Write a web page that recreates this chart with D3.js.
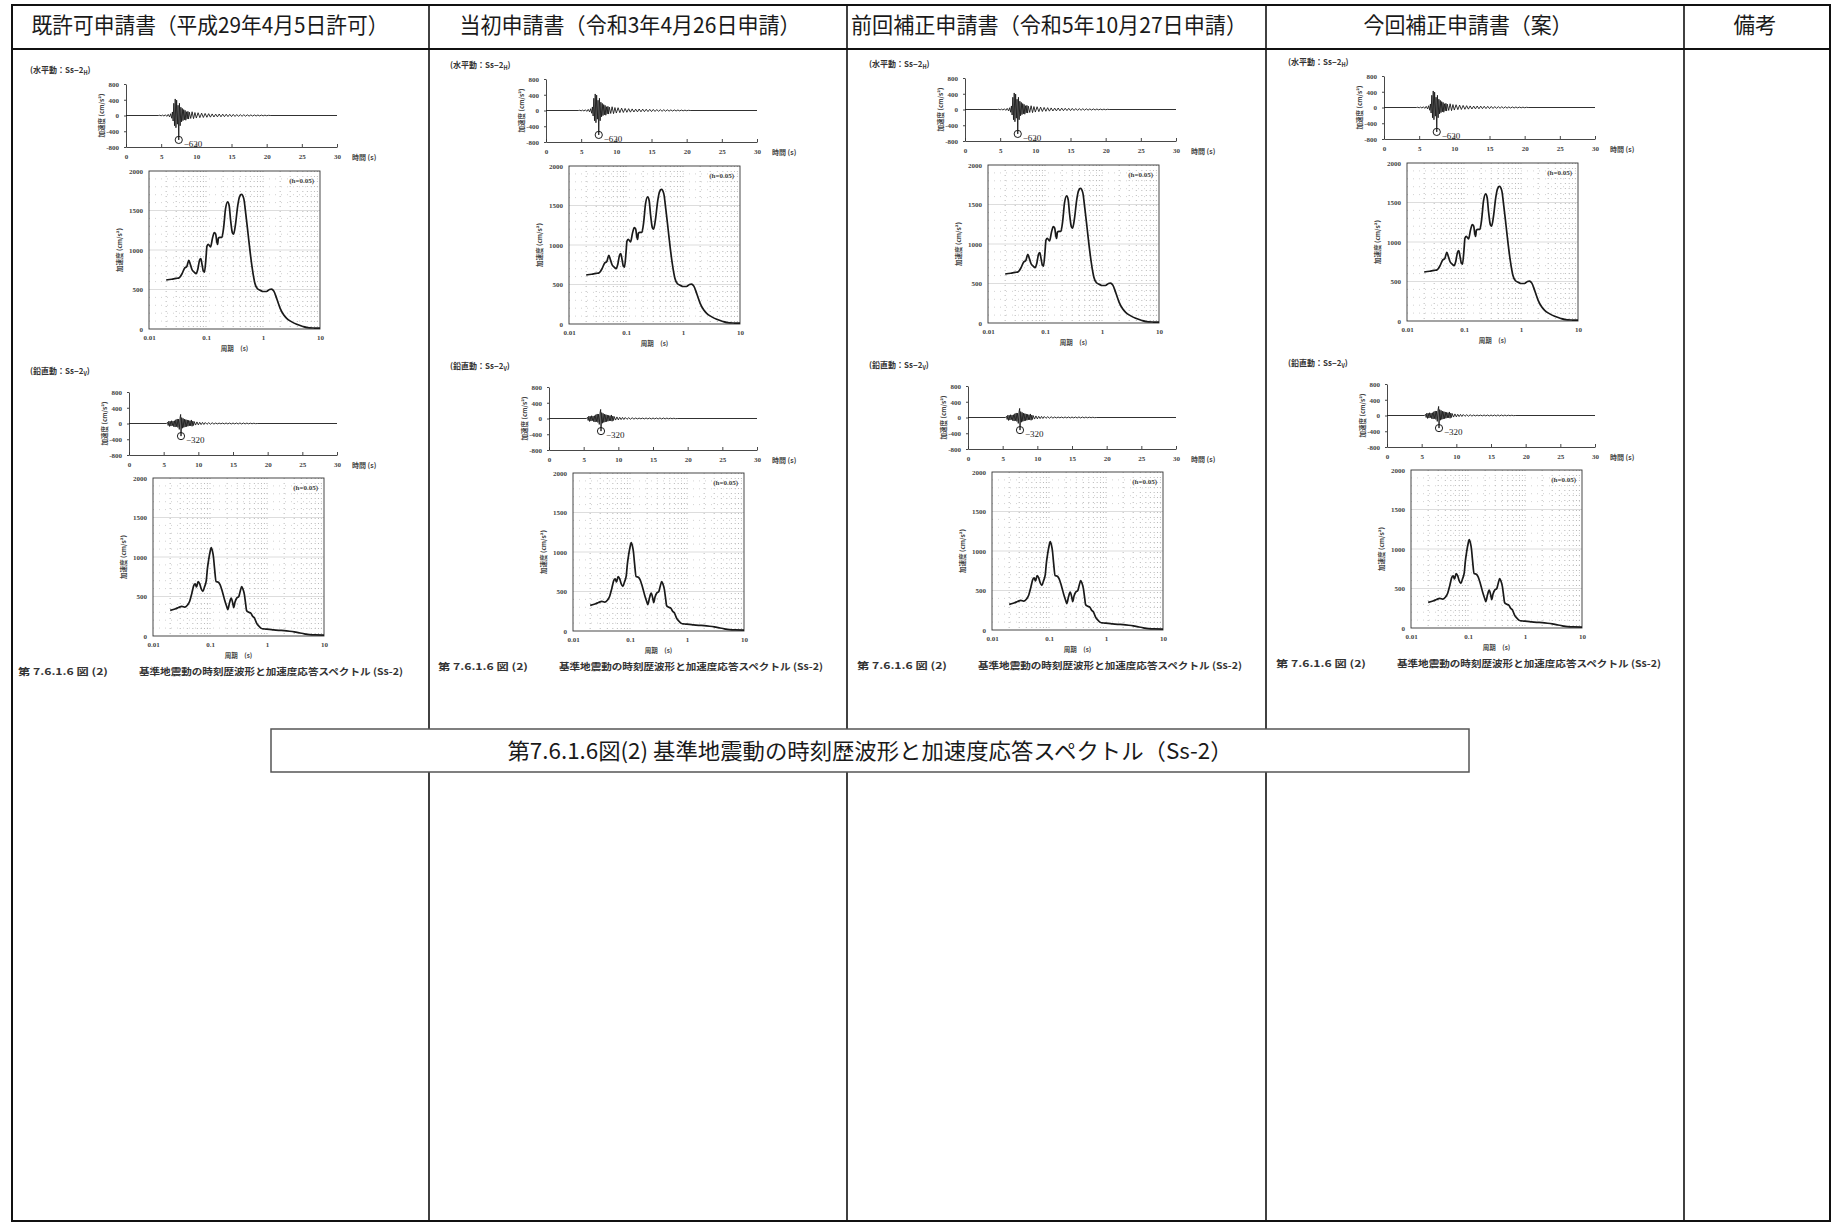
<!DOCTYPE html>
<html><head><meta charset="utf-8">
<script src="https://cdn.jsdelivr.net/npm/d3@7"></script>
<style>body{margin:0;background:#fff}svg{display:block}</style>
</head><body>
<svg id="c" width="1834" height="1224"></svg>
<script>
// ---------- data ----------
const columnHeaders = ["既許可申請書（平成29年4月5日許可）","当初申請書（令和3年4月26日申請）","前回補正申請書（令和5年10月27日申請）","今回補正申請書（案）","備考"];
const captionNumber = "第 7.6.1.6 図 (2)";
const captionText = "基準地震動の時刻歴波形と加速度応答スペクトル (Ss-2)";
const bigCaption = "第7.6.1.6図(2) 基準地震動の時刻歴波形と加速度応答スペクトル（Ss-2）";
const hTitle = ["(水平動：Ss−2", "H", ")"];
const vTitle = ["(鉛直動：Ss−2", "V", ")"];
const timeTicks = [0,5,10,15,20,25,30];
const accelTicks = [-800,-400,0,400,800];
const specYTicks = [0,500,1000,1500,2000];
const specXTicks = [0.01,0.1,1,10];
const specXLabels = ["0.01","0.1","1","10"];
const dampingLabel = "(h=0.05)";
const accelLabel = "加速度 (cm/s²)";
const timeLabel = "時間 (s)";
const periodLabel = "周期　(s)";

// horizontal time history [t (s), acc (cm/s2)]
const hWave = [[0,0],[4.6,0],[4.8,6],[5.0,-8],[5.2,10],[5.4,-14],[5.6,18],[5.8,-22],[6.0,28],[6.2,-35],[6.35,45],[6.5,-70],[6.6,90],[6.7,-140],[6.8,310],[6.9,-260],[7.0,420],[7.1,-310],[7.2,390],[7.3,-220],[7.4,260],[7.5,-620],[7.6,310],[7.7,-260],[7.8,210],[7.9,-160],[8.0,180],[8.1,-130],[8.2,150],[8.3,-110],[8.4,130],[8.5,-120],[8.6,95],[8.7,-85],[8.8,105],[8.9,-90],[9.0,85],[9.2,-75],[9.4,95],[9.6,-80],[9.8,75],[10.0,-65],[10.25,70],[10.5,-55],[10.75,60],[11.0,-50],[11.25,52],[11.5,-45],[11.75,46],[12.0,-42],[12.25,40],[12.5,-38],[12.75,36],[13.0,-35],[13.25,38],[13.5,-33],[13.75,35],[14.0,-30],[14.25,32],[14.5,-28],[14.75,30],[15.0,-28],[15.25,28],[15.5,-25],[15.75,25],[16.0,-22],[16.25,22],[16.5,-20],[16.75,20],[17.0,-18],[17.25,18],[17.5,-16],[17.75,15],[18.0,-14],[18.25,14],[18.5,-12],[18.75,12],[19.0,-10],[19.25,10],[19.5,-8],[19.75,8],[20.0,-6],[20.25,5],[20.5,0],[30,0]];
// vertical time history
const vWave = [[0,0],[5.4,0],[5.55,30],[5.65,-50],[5.75,60],[5.85,-75],[5.95,55],[6.05,-65],[6.15,70],[6.25,-55],[6.35,60],[6.45,-80],[6.55,70],[6.65,-90],[6.75,95],[6.85,-80],[6.95,115],[7.05,-100],[7.15,110],[7.25,-150],[7.35,130],[7.45,230],[7.5,-320],[7.6,150],[7.7,-120],[7.8,130],[7.9,-100],[8.0,110],[8.1,-90],[8.2,100],[8.3,-80],[8.4,90],[8.5,-70],[8.6,80],[8.7,-60],[8.8,70],[8.9,-60],[9.0,90],[9.1,-70],[9.2,60],[9.3,-50],[9.4,50],[9.6,-40],[9.8,40],[10.0,-35],[10.2,30],[10.4,-28],[10.6,28],[10.8,-25],[11.0,25],[11.25,-20],[11.5,20],[11.75,-18],[12.0,18],[12.25,-15],[12.5,12],[12.75,-10],[13.0,10],[13.25,-8],[13.5,10],[13.75,-10],[14.0,12],[14.25,-10],[14.5,12],[14.75,-12],[15.0,12],[15.25,-10],[15.5,12],[15.75,-12],[16.0,14],[16.25,-12],[16.5,12],[16.75,-10],[17.0,10],[17.25,-8],[17.5,8],[17.75,-6],[18.0,6],[18.25,-4],[18.5,0],[30,0]];
const hPeak = [7.5, -620, "−620"];
const vPeak = [7.5, -320, "−320"];

// response spectra [period (s), acc (cm/s2)]
const hSpec = [[0.02,620],[0.025,630],[0.03,640],[0.034,650],[0.038,700],[0.042,770],[0.046,790],[0.05,870],[0.053,820],[0.057,750],[0.062,720],[0.067,700],[0.072,760],[0.077,870],[0.081,890],[0.086,800],[0.09,730],[0.094,720],[0.1,900],[0.104,1050],[0.11,1070],[0.12,1040],[0.13,1150],[0.14,1220],[0.148,1200],[0.155,1100],[0.16,1070],[0.165,1150],[0.175,1160],[0.19,1160],[0.205,1300],[0.22,1520],[0.24,1610],[0.255,1560],[0.27,1380],[0.29,1220],[0.305,1200],[0.33,1330],[0.36,1560],[0.39,1680],[0.42,1705],[0.46,1650],[0.5,1450],[0.55,1190],[0.6,950],[0.65,760],[0.72,580],[0.8,510],[0.9,490],[1.0,475],[1.15,475],[1.3,500],[1.4,506],[1.55,480],[1.75,380],[2.0,262],[2.3,180],[2.6,135],[3.2,90],[3.9,59],[5.0,32],[6.0,18],[8.0,12],[10,10]];
const vSpec = [[0.02,325],[0.025,345],[0.028,360],[0.032,375],[0.036,365],[0.04,390],[0.044,440],[0.048,540],[0.052,640],[0.055,660],[0.058,620],[0.062,690],[0.066,660],[0.07,600],[0.075,565],[0.08,620],[0.086,700],[0.09,850],[0.095,970],[0.1,1060],[0.105,1120],[0.11,1080],[0.115,1000],[0.12,860],[0.128,690],[0.14,680],[0.15,650],[0.165,560],[0.18,460],[0.195,380],[0.205,335],[0.22,420],[0.235,480],[0.25,420],[0.26,360],[0.275,430],[0.295,480],[0.32,500],[0.34,570],[0.36,625],[0.38,590],[0.4,530],[0.42,420],[0.44,320],[0.48,300],[0.52,290],[0.56,250],[0.6,230],[0.66,160],[0.72,125],[0.78,100],[0.85,90],[0.95,88],[1.1,85],[1.3,78],[1.6,72],[2.0,68],[2.5,60],[3.0,52],[3.8,38],[4.5,28],[5.6,18],[7.0,14],[10,12]];

// ---------- layout ----------
const L = {
  colEdges:[12,429,847,1266,1684,1830], top:5, headBottom:49, bottom:1221,
  headCenters:[210,630,1049,1468,1755], headWidths:[357,341,396,209,43], headY:25,
  colOffsets:[[0,0],[420,-5],[839,-6],[1258,-8]],
  hTitle:[30,73], hTime:[126,337,84,147], hSpec:[149,320,171,329],
  vTitle:[30,374], vTime:[129,337,392,455], vSpec:[153,324,478,636],
  capY:675, capNumX:18, capTextX:139, capNumW:90, capTextW:264,
  bigBox:[271,729,1469,772], bigW:725
};
const ink = "#1a1a1a", soft = "#444";
const svg = d3.select("#c");
const numFont = "'Liberation Serif', 'DejaVu Serif', serif";
const jpFont = "'Noto Sans CJK JP', sans-serif";

// ---------- table ----------
const tbl = svg.append("g").attr("stroke", "#111").attr("stroke-width", 2).attr("fill","none");
tbl.append("rect").attr("x", L.colEdges[0]).attr("y", L.top)
  .attr("width", L.colEdges[5]-L.colEdges[0]).attr("height", L.bottom-L.top);
tbl.append("line").attr("x1", L.colEdges[0]).attr("x2", L.colEdges[5]).attr("y1", L.headBottom).attr("y2", L.headBottom);
tbl.selectAll("line.col").data(L.colEdges.slice(1,5)).join("line").attr("class","col")
  .attr("x1", d=>d).attr("x2", d=>d).attr("y1", L.top).attr("y2", L.bottom).attr("stroke-width",1.6);

svg.selectAll("text.head").data(columnHeaders).join("text").attr("class","head")
  .attr("x",(d,i)=>L.headCenters[i]-L.headWidths[i]/2).attr("y",L.headY+8)
  .attr("textLength",(d,i)=>L.headWidths[i]).attr("lengthAdjust","spacingAndGlyphs")
  .attr("font-family",jpFont).attr("font-size",22).attr("fill",ink).text(d=>d);

// ---------- panels ----------
function drawTitle(g, pos, parts){
  const t = g.append("text").attr("x",pos[0]).attr("y",pos[1]).attr("font-family",jpFont)
    .attr("font-size",8).attr("font-weight",700).attr("fill","#333");
  t.append("tspan").text(parts[0]);
  t.append("tspan").attr("font-size",5.5).attr("dy",2).text(parts[1]);
  t.append("tspan").attr("dy",-2).text(parts[2]);
}
function drawTime(g, box, wave, peak){
  const [x0,x1,y0,y1] = box;
  const x = d3.scaleLinear().domain([0,30]).range([x0,x1]);
  const y = d3.scaleLinear().domain([-800,800]).range([y1,y0]);
  const ax = g.append("g").attr("transform",`translate(0,${y1})`)
    .call(d3.axisBottom(x).tickValues(timeTicks).tickFormat(d3.format("d")).tickSizeInner(-3).tickSizeOuter(0).tickPadding(7));
  const ay = g.append("g").attr("transform",`translate(${x0},0)`)
    .call(d3.axisLeft(y).tickValues(accelTicks).tickFormat(d=>String(d)).tickSizeInner(2).tickSizeOuter(0).tickPadding(5));
  [ax,ay].forEach(a=>{
    a.selectAll("path,line").attr("stroke","#333").attr("stroke-width",0.9);
    a.selectAll("text").attr("font-family",numFont).attr("font-size",7).attr("font-weight",700).attr("fill",soft);
  });
  g.append("path").datum(wave).attr("fill","none").attr("stroke",ink).attr("stroke-width",0.9)
    .attr("d", d3.line().x(d=>x(d[0])).y(d=>y(d[1])));
  g.append("text").attr("x",x1+15).attr("y",y1+13).attr("font-family",jpFont).attr("font-size",7)
    .attr("font-weight",700).attr("fill",soft).text(timeLabel);
  g.append("text").attr("transform",`translate(${x0-22},${(y0+y1)/2}) rotate(-90)`).attr("text-anchor","middle")
    .attr("font-family",jpFont).attr("font-size",6.5).attr("font-weight",700).attr("fill",soft).text(accelLabel);
  g.append("circle").attr("cx",x(peak[0])).attr("cy",y(peak[1])).attr("r",3.6)
    .attr("fill","none").attr("stroke",ink).attr("stroke-width",1);
  g.append("text").attr("x",x(peak[0])+5).attr("y",y(peak[1])+7).attr("font-family",numFont)
    .attr("font-size",9).attr("fill","#222").text(peak[2]);
}
function drawSpec(g, box, spec){
  const [x0,x1,y0,y1] = box;
  const x = d3.scaleLog().domain([0.01,10]).range([x0,x1]);
  const y = d3.scaleLinear().domain([0,2000]).range([y1,y0]);
  const grid = g.append("g");
  const minor = [];
  [0.01,0.1,1].forEach(dec=>{ for(let k=1;k<10;k++){ if(dec*k>0.01) minor.push(dec*k); } });
  grid.selectAll("line.v").data(minor).join("line").attr("x1",d=>x(d)).attr("x2",d=>x(d))
    .attr("y1",y0).attr("y2",y1).attr("stroke","#999").attr("stroke-width",0.7).attr("stroke-dasharray","1 4");
  grid.selectAll("line.h").data(d3.range(100,2000,100)).join("line").attr("x1",x0).attr("x2",x1)
    .attr("y1",d=>y(d)).attr("y2",d=>y(d))
    .attr("stroke",d=>d%500===0?"#cfcfcf":"#b5b5b5").attr("stroke-width",d=>d%500===0?0.7:0.6)
    .attr("stroke-dasharray",d=>d%500===0?null:"1 5");
  g.append("rect").attr("x",x0).attr("y",y0).attr("width",x1-x0).attr("height",y1-y0)
    .attr("fill","none").attr("stroke","#333").attr("stroke-width",0.9);
  const ax = g.append("g").attr("transform",`translate(0,${y1})`)
    .call(d3.axisBottom(x).tickValues(specXTicks).tickFormat((d,i)=>specXLabels[i]).tickSize(0).tickPadding(6));
  const ay = g.append("g").attr("transform",`translate(${x0},0)`)
    .call(d3.axisLeft(y).tickValues(specYTicks).tickFormat(d3.format("d")).tickSize(0).tickPadding(6));
  [ax,ay].forEach(a=>{
    a.select(".domain").remove();
    a.selectAll("text").attr("font-family",numFont).attr("font-size",7).attr("font-weight",700).attr("fill",soft);
  });
  g.append("path").datum(spec).attr("fill","none").attr("stroke",ink).attr("stroke-width",1.7)
    .attr("stroke-linejoin","round").attr("d", d3.line().curve(d3.curveMonotoneX).x(d=>x(d[0])).y(d=>y(d[1])));
  g.append("text").attr("x",x1-6).attr("y",y0+12).attr("text-anchor","end").attr("font-family",numFont)
    .attr("font-size",7).attr("font-weight",700).attr("fill",soft).text(dampingLabel);
  g.append("text").attr("x",(x0+x1)/2).attr("y",y1+22).attr("text-anchor","middle").attr("font-family",jpFont)
    .attr("font-size",6.5).attr("font-weight",700).attr("fill",soft).text(periodLabel);
  g.append("text").attr("transform",`translate(${x0-27},${(y0+y1)/2}) rotate(-90)`).attr("text-anchor","middle")
    .attr("font-family",jpFont).attr("font-size",6.5).attr("font-weight",700).attr("fill",soft).text(accelLabel);
}

L.colOffsets.forEach(([dx,dy])=>{
  const g = svg.append("g").attr("transform",`translate(${dx},${dy})`);
  drawTitle(g, L.hTitle, hTitle);
  drawTime(g, L.hTime, hWave, hPeak);
  drawSpec(g, L.hSpec, hSpec);
  drawTitle(g, L.vTitle, vTitle);
  drawTime(g, L.vTime, vWave, vPeak);
  drawSpec(g, L.vSpec, vSpec);
  g.append("text").attr("x",L.capNumX).attr("y",L.capY).attr("textLength",L.capNumW).attr("lengthAdjust","spacingAndGlyphs")
    .attr("font-family",jpFont).attr("font-size",9.5).attr("font-weight",700).attr("fill","#333").text(captionNumber);
  g.append("text").attr("x",L.capTextX).attr("y",L.capY).attr("textLength",L.capTextW).attr("lengthAdjust","spacingAndGlyphs")
    .attr("font-family",jpFont).attr("font-size",9.5).attr("font-weight",700).attr("fill","#333").text(captionText);
});

// ---------- big caption box ----------
const [bx0,by0,bx1,by1] = L.bigBox;
svg.append("rect").attr("x",bx0).attr("y",by0).attr("width",bx1-bx0).attr("height",by1-by0)
  .attr("fill","#fff").attr("stroke","#555").attr("stroke-width",1.5);
svg.append("text").attr("x",(bx0+bx1)/2-L.bigW/2).attr("y",(by0+by1)/2+8)
  .attr("textLength",L.bigW).attr("lengthAdjust","spacingAndGlyphs")
  .attr("font-family",jpFont).attr("font-size",22).attr("fill",ink).text(bigCaption);
</script>
</body></html>
